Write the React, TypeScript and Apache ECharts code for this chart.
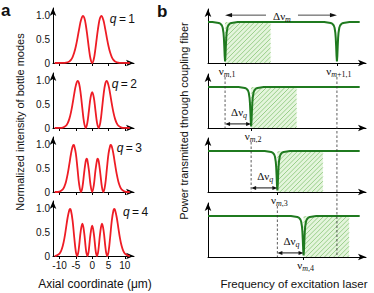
import React, { useEffect, useRef } from 'react';
import * as echarts from 'echarts';

// ---------- Panel a: normalized intensity of bottle modes ----------
// Half profiles (axial coordinate >= 0, in µm); the curves are symmetric about 0.
const axialTicks = [-10, -5, 0, 5, 10];
const intensityTicks = [0, 0.5, 1];
const modeOrders = ['1', '2', '3', '4'];

const mode1Half: [number, number][] = [
  [0, 0], [0.5, 0.084], [1, 0.305], [1.4, 0.53], [2, 0.83], [2.4, 0.957], [2.8, 1], [3.4, 0.918],
  [4, 0.72], [4.5, 0.53], [5, 0.357], [5.5, 0.221], [6, 0.127], [6.5, 0.067], [7, 0.033],
  [8, 0.006], [9, 0.001], [11.5, 0],
];
const mode2Half: [number, number][] = [
  [0, 0.762], [0.5, 0.646], [1, 0.372], [1.5, 0.104], [1.98, 0], [2.5, 0.121], [3, 0.406],
  [3.5, 0.721], [4, 0.94], [4.43, 1], [5, 0.907], [5.5, 0.725], [6, 0.517], [6.5, 0.333],
  [7, 0.194], [7.5, 0.104], [8, 0.051], [9, 0.01], [10, 0.001], [11.5, 0],
];
const mode3Half: [number, number][] = [
  [0, 0], [0.5, 0.145], [1, 0.46], [1.5, 0.689], [1.7, 0.712], [2, 0.653], [2.5, 0.386],
  [3, 0.098], [3.43, 0], [4, 0.169], [4.5, 0.497], [5, 0.815], [5.5, 0.983], [5.7, 1],
  [6, 0.967], [6.5, 0.809], [7, 0.591], [7.5, 0.385], [8, 0.225], [8.5, 0.119], [9, 0.057],
  [10, 0.01], [11.5, 0],
];
const mode4Half: [number, number][] = [
  [0, 0.643], [0.5, 0.475], [1, 0.148], [1.25, 0.034], [1.47, 0], [1.75, 0.056], [2, 0.186],
  [2.5, 0.521], [3, 0.687], [3.5, 0.536], [4, 0.216], [4.3, 0.063], [4.62, 0], [5, 0.086],
  [5.5, 0.399], [6, 0.753], [6.5, 0.969], [6.78, 1], [7, 0.979], [7.5, 0.824], [8, 0.6],
  [8.5, 0.382], [9, 0.218], [9.5, 0.112], [10, 0.051], [11, 0.008], [11.5, 0],
];
const modeHalves = [mode1Half, mode2Half, mode3Half, mode4Half];

// ---------- Panel b: power transmitted through coupling fiber ----------
const resonanceNames = ['m,1', 'm,2', 'm,3', 'm,4'];
const resonanceFreqs = [10.8, 27.3, 43.9, 60.5];
const nextModeName = 'm+1,1';
const nextModeFreq = 81.6;
const dipOffsets = [-8, -6, -4, -3, -2, -1.5, -1, -0.75, -0.5, -0.25, 0, 0.25, 0.5, 0.75, 1, 1.5, 2, 3, 4, 6, 8];
const dipProfile = [1, 0.99, 0.978, 0.962, 0.917, 0.862, 0.735, 0.61, 0.41, 0.17, 0.04, 0.17, 0.41, 0.61, 0.735, 0.862, 0.917, 0.962, 0.978, 0.99, 1];
const transmissionStart = 0;
const transmissionEnd = 96;
const hatchSpan = 28.8;

const SANS = 'Arial, "Liberation Sans", Helvetica, sans-serif';
const SERIF = '"Times New Roman", "Liberation Serif", "DejaVu Serif", serif';
const RED = '#ee1c25';
const GREEN = '#1f7a1f';
const INK = '#111';

const mirror = (half: [number, number][]) => [
  ...half.slice(1).reverse().map(([x, y]) => [-x, y]),
  ...half,
];

const dip = (center: number) => dipOffsets.map((o, i) => [center + o, dipProfile[i]]);

const aTops = [8, 73, 137, 201];
const bTops = [9, 74, 138, 203];

function buildOption(): any {
  const grid: any[] = [
    ...aTops.map((t) => ({ left: 53, top: t, width: 81, height: 55 })),
    ...bTops.map((t) => ({ left: 208, top: t, width: 158, height: 54 })),
  ];
  const axisLine = {
    show: true,
    onZero: false,
    symbol: ['none', 'arrow'],
    symbolSize: [5, 8],
    lineStyle: { color: '#000', width: 1 },
  };
  const xAxis: any[] = [];
  const yAxis: any[] = [];
  for (let i = 0; i < 4; i++) {
    xAxis.push({
      type: 'value', gridIndex: i, min: -12, max: 12.8,
      axisLine,
      axisTick: { show: true, length: 3, customValues: axialTicks, lineStyle: { color: '#000' } },
      axisLabel: { show: i === 3, customValues: axialTicks, fontSize: 10, color: INK, fontFamily: SANS, margin: 4 },
      splitLine: { show: false },
    });
    yAxis.push({
      type: 'value', gridIndex: i, min: 0, max: 1.17,
      axisLine,
      axisTick: { show: false },
      axisLabel: {
        customValues: intensityTicks, fontSize: 10, color: INK, fontFamily: SANS, margin: 3,
        formatter: (v: number) => (v === 0 ? '0' : v.toFixed(1)),
      },
      splitLine: { show: false },
    });
  }
  const bTicks = [[resonanceFreqs[0], nextModeFreq], [resonanceFreqs[1]], [resonanceFreqs[2]], [resonanceFreqs[3]]];
  for (let k = 0; k < 4; k++) {
    xAxis.push({
      type: 'value', gridIndex: 4 + k, min: 0, max: 100,
      axisLine,
      axisTick: { show: true, length: 3, customValues: bTicks[k], lineStyle: { color: '#000' } },
      axisLabel: { show: false },
      splitLine: { show: false },
    });
    yAxis.push({
      type: 'value', gridIndex: 4 + k, min: 0, max: 1.32,
      axisLine,
      axisTick: { show: false },
      axisLabel: { show: false },
      splitLine: { show: false },
    });
  }

  const series: any[] = [];
  modeHalves.forEach((half, i) => {
    series.push({
      type: 'line', xAxisIndex: i, yAxisIndex: i, data: mirror(half),
      showSymbol: false, smooth: 0.4, lineStyle: { color: RED, width: 1.8 }, z: 3,
    });
  });
  for (let k = 0; k < 4; k++) {
    series.push({
      type: 'custom', xAxisIndex: 4 + k, yAxisIndex: 4 + k,
      data: [[resonanceFreqs[k], resonanceFreqs[k] + hatchSpan, 1]],
      encode: { x: [0, 1], y: [2] },
      z: 1,
      renderItem: (params: any, api: any) => {
        const p0 = api.coord([api.value(0), 0]);
        const p1 = api.coord([api.value(1), api.value(2)]);
        const L = p0[0], R = p1[0], T = p1[1], B = p0[1];
        const children: any[] = [
          { type: 'rect', shape: { x: L, y: T, width: R - L, height: B - T }, style: { fill: '#e4f5dc' } },
        ];
        const step = 4.6;
        for (let c = L + T + 2; c <= R + B; c += step) {
          const xs = Math.max(L, c - B);
          const xe = Math.min(R, c - T);
          if (xe > xs) {
            children.push({
              type: 'line',
              shape: { x1: xs, y1: c - xs, x2: xe, y2: c - xe },
              style: { stroke: '#86c475', lineWidth: 0.8 },
            });
          }
        }
        return { type: 'group', children };
      },
    });
    const pts: number[][] = [[transmissionStart, 1], ...dip(resonanceFreqs[k])];
    if (k === 0) pts.push(...dip(nextModeFreq));
    pts.push([transmissionEnd, 1]);
    series.push({
      type: 'line', xAxisIndex: 4 + k, yAxisIndex: 4 + k, data: pts,
      showSymbol: false, smooth: false, lineStyle: { color: GREEN, width: 2 }, z: 3,
    });
  }

  return { animation: false, grid, xAxis, yAxis, series };
}

const subRich = (size: number) => ({
  n: { fontFamily: SERIF, fontSize: size, lineHeight: 15, fill: INK },
  i: { fontFamily: SERIF, fontSize: 8, fontStyle: 'italic', height: 8, verticalAlign: 'bottom', fill: INK },
  s: { fontFamily: SERIF, fontSize: 8, height: 8, verticalAlign: 'bottom', fill: INK },
});

export default function App() {
  const ref = useRef<HTMLDivElement>(null);
  useEffect(() => {
    const el = ref.current;
    if (!el) return;
    const chart = echarts.init(el, undefined, { renderer: 'svg' });
    chart.setOption(buildOption());
    const toPx = (g: number, x: number, y: number) =>
      chart.convertToPixel({ gridIndex: g } as any, [x, y]) as unknown as number[];

    const g: any[] = [];
    const txt = (x: number, y: number, text: string, style: any = {}, extra: any = {}) => ({
      type: 'text', x, y, z: 10,
      style: { text, fontFamily: SANS, fontSize: 11, fill: INK, align: 'center', verticalAlign: 'middle', ...style },
      ...extra,
    });
    const line = (x1: number, y1: number, x2: number, y2: number, style: any) => ({
      type: 'line', z: 10, shape: { x1, y1, x2, y2 }, style: { stroke: INK, lineWidth: 1, ...style },
    });
    const head = (x: number, y: number, dir: number, len: number, hw: number) => ({
      type: 'polygon', z: 10,
      shape: { points: [[x, y], [x - dir * len, y - hw], [x - dir * len, y + hw]] },
      style: { fill: INK },
    });

    // panel letters
    g.push(txt(1, 10, 'a', { fontSize: 17, fontWeight: 'bold', align: 'left' }));
    g.push(txt(157, 11, 'b', { fontSize: 17, fontWeight: 'bold', align: 'left' }));

    // axis titles
    g.push(txt(20, 122, 'Normalized intensity of bottle modes', {}, { rotation: Math.PI / 2 }));
    g.push(txt(95, 284, 'Axial coordinate (\u03bcm)', { fontSize: 12 }));
    g.push(txt(184, 121, 'Power transmitted through coupling fiber', {}, { rotation: Math.PI / 2 }));
    g.push(txt(294, 284, 'Frequency of excitation laser', { fontSize: 11.5 }));

    // q labels
    const qx = [5.4, 6.0, 7.5, 9.4];
    modeOrders.forEach((q, i) => {
      const p = toPx(i, qx[i], 0.93);
      g.push(txt(p[0], p[1], `{i|q}{r|\u2009=\u2009${q}}`, {
        align: 'left',
        rich: {
          i: { fontFamily: SANS, fontSize: 12, fontStyle: 'italic', fill: INK },
          r: { fontFamily: SANS, fontSize: 12, fill: INK },
        },
      }));
    });

    // panel b annotations
    const base = [0, 1, 2, 3].map((k) => toPx(4 + k, 0, 0)[1]);
    const fx = (k: number, f: number) => toPx(4 + k, f, 0)[0];

    // resonance labels
    resonanceFreqs.forEach((f, k) => {
      const x = fx(k, f);
      const [m, rest] = [resonanceNames[k].slice(0, 1), resonanceNames[k].slice(1)];
      g.push(txt(x + 2, base[k] + 8, `{n|\u03bd}{i|${m}}{s|${rest}}`, { rich: subRich(11) }));
    });
    {
      const x = fx(0, nextModeFreq);
      g.push(txt(x + 2, base[0] + 8, `{n|\u03bd}{i|m}{s|${nextModeName.slice(1)}}`, { rich: subRich(11) }));
    }

    // dashed guide lines
    const dash = { stroke: '#333', lineWidth: 0.8, lineDash: [2.5, 2] };
    g.push(line(fx(0, resonanceFreqs[0]), base[0] + 14, fx(0, resonanceFreqs[0]), base[1], dash));
    g.push(line(fx(1, resonanceFreqs[1]), base[1] + 14, fx(1, resonanceFreqs[1]), base[2], dash));
    g.push(line(fx(2, resonanceFreqs[2]), base[2] + 14, fx(2, resonanceFreqs[2]), base[3], dash));
    g.push(line(fx(0, nextModeFreq), base[0] + 14, fx(0, nextModeFreq), base[3], dash));

    // Δν_q arrows
    for (let k = 1; k < 4; k++) {
      const x1 = fx(k, resonanceFreqs[k - 1]);
      const x2 = fx(k, resonanceFreqs[k]);
      const y = toPx(4 + k, 0, 0.1)[1];
      g.push(line(x1 + 4, y, x2 - 4, y, { lineWidth: 1 }));
      g.push(head(x1, y, -1, 5, 2));
      g.push(head(x2, y, 1, 5, 2));
      g.push(txt((x1 + x2) / 2 + 1, base[k] - 16, '{n|\u0394\u03bd}{i|q}', { rich: subRich(11) }));
    }

    // Δν_m arrow
    {
      const x1 = fx(0, resonanceFreqs[0]);
      const x2 = fx(0, nextModeFreq);
      const y = toPx(4, 0, 1.17)[1];
      const xm = (x1 + x2) / 2 + 1;
      g.push(line(x1 + 5, y, xm - 16, y, { lineWidth: 0.9, stroke: '#333' }));
      g.push(line(xm + 16, y, x2 - 5, y, { lineWidth: 0.9, stroke: '#333' }));
      g.push(head(x1, y, -1, 7, 2.2));
      g.push(head(x2, y, 1, 7, 2.2));
      g.push(txt(xm, y + 1, '{n|\u0394\u03bd}{i|m}', { rich: subRich(11) }));
    }

    chart.setOption({ graphic: g });
    return () => chart.dispose();
  }, []);
  return <div ref={ref} style={{ position: 'absolute', left: 0, top: 0, width: 374, height: 293 }} />;
}
